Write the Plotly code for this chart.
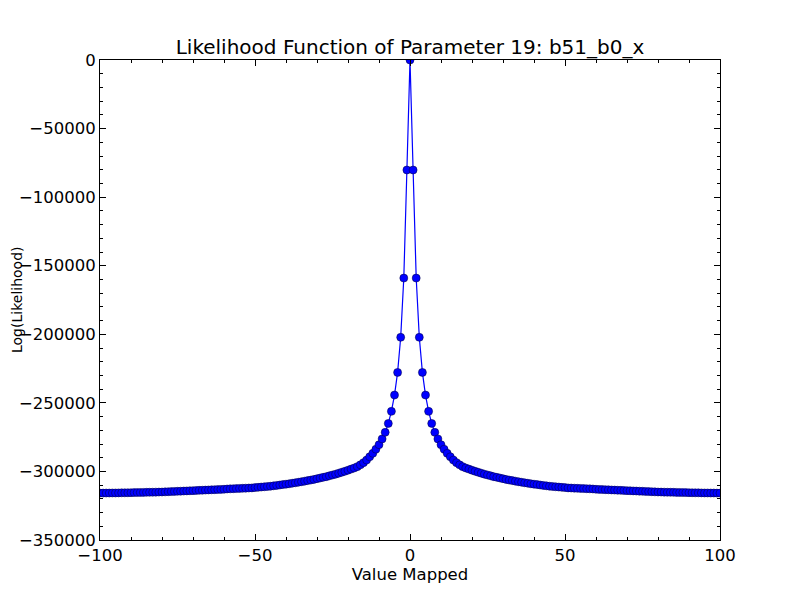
import plotly.graph_objects as go

# log-likelihood for x = 0..100 (curve is symmetric about 0)
right_half = [
    0, -80200, -159000, -202200, -227800, -244300, -256200, -265000, -271500, -276300,
    -280500, -283800, -286800, -289300, -291700, -293600, -295200, -296500, -297500, -298300,
    -299100, -299900, -300600, -301300, -302000, -302600, -303200, -303800, -304300, -304800,
    -305300, -305800, -306300, -306700, -307100, -307500, -307900, -308300, -308600, -309000,
    -309300, -309600, -309900, -310200, -310500, -310800, -311000, -311200, -311400, -311600,
    -311800, -312000, -312100, -312200, -312300, -312400, -312500, -312600, -312700, -312800,
    -313000, -313100, -313200, -313300, -313400, -313500, -313600, -313700, -313800, -313900,
    -314000, -314100, -314200, -314300, -314400, -314500, -314600, -314700, -314800, -314900,
    -315000, -315050, -315100, -315150, -315200, -315250, -315300, -315350, -315400, -315450,
    -315500, -315550, -315600, -315600, -315650, -315700, -315700, -315750, -315750, -315800,
    -315800,
]
x_vals = list(range(-100, 101))
loglik = right_half[:0:-1] + right_half

title_text = "Likelihood Function of Parameter 19: b51_b0_x"
x_title = "Value Mapped"
y_title = "Log(Likelihood)"

fig = go.Figure(go.Scatter(
    x=x_vals, y=loglik, mode="lines+markers",
    line=dict(color="#0000ff", width=1.2),
    marker=dict(color="#0000ff", size=8, line=dict(color="#000033", width=0.5)),
))

axis_common = dict(
    showgrid=False, zeroline=False, showline=True, linecolor="black", linewidth=1,
    mirror="allticks", ticks="inside", ticklen=6, tickcolor="black", automargin=False,
    tickfont=dict(family="DejaVu Sans", size=16.5, color="black"),
)

# the page adds an 8px body margin, so the plot box is shifted back by that much
fig.update_layout(
    width=800, height=600,
    paper_bgcolor="white", plot_bgcolor="white",
    margin=dict(l=92, r=88, t=52, b=68, autoexpand=False),
    showlegend=False,
    font=dict(family="DejaVu Sans", color="black"),
    title=dict(text=title_text, x=402 / 800, xanchor="center", y=1 - 39 / 600, yanchor="middle",
               font=dict(size=20, color="black")),
)
# y label sits hard against the left edge, like the original
fig.add_annotation(text=y_title, xref="paper", yref="paper", x=-92 / 620, y=0.5,
                   xanchor="left", yanchor="middle", textangle=-90, showarrow=False,
                   borderpad=0, font=dict(size=14, color="black"))
fig.update_xaxes(range=[-100, 100], dtick=50, **axis_common,
                 minor=dict(ticks="inside", ticklen=3, dtick=10, tickcolor="black"),
                 title=dict(text=x_title, font=dict(size=16.5), standoff=4))
fig.update_yaxes(range=[-350000, 0], dtick=50000, tickformat="d", **axis_common,
                 minor=dict(ticks="inside", ticklen=3, dtick=10000, tickcolor="black"))

fig.write_html("out.html")
